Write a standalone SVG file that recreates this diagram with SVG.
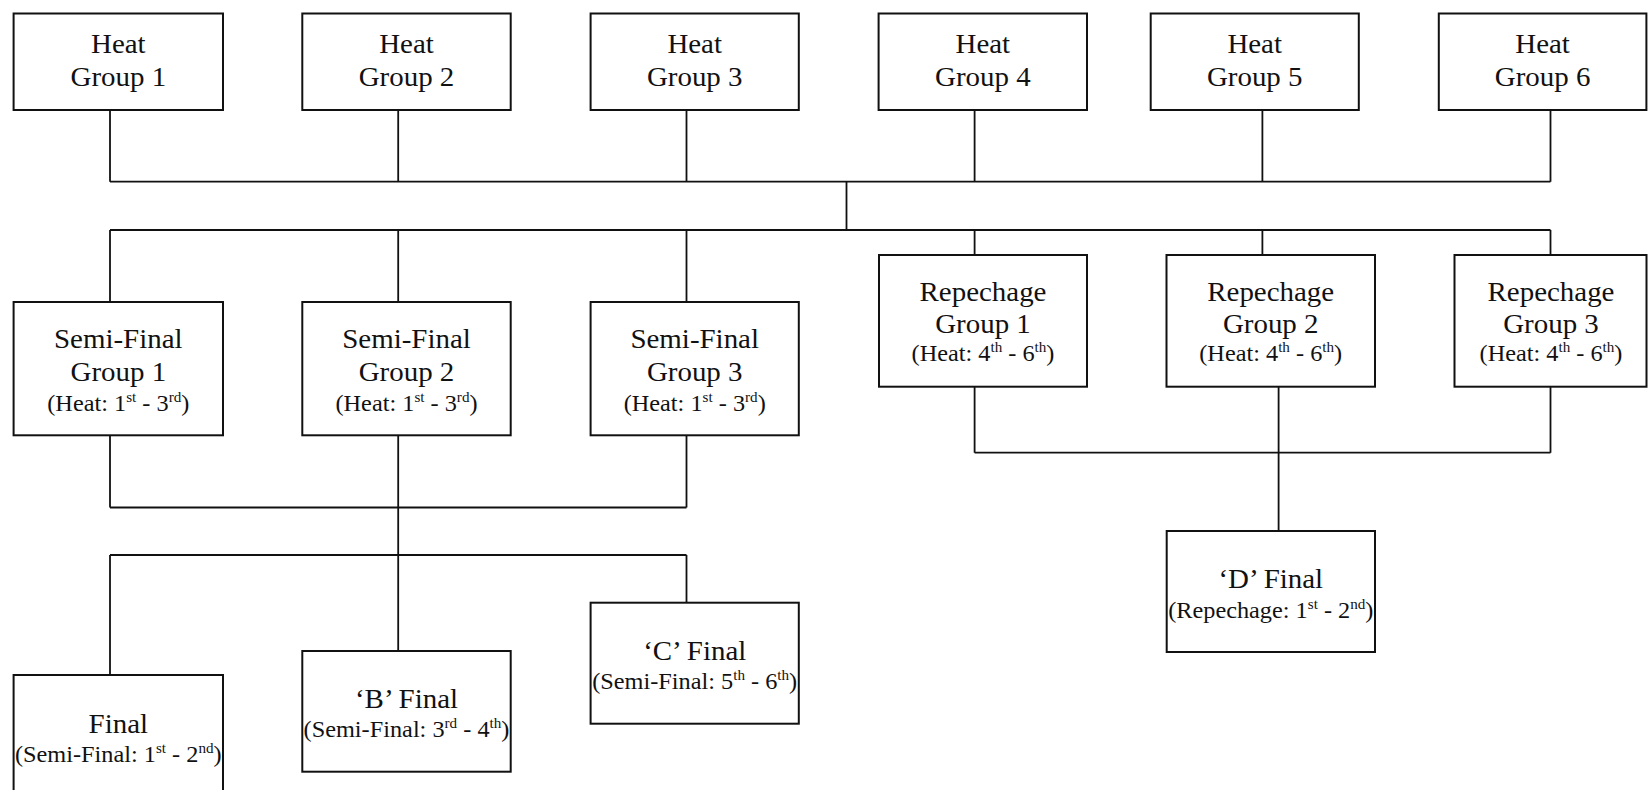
<svg xmlns="http://www.w3.org/2000/svg" width="1648" height="790" viewBox="0 0 1648 790">
<style>
rect{fill:#fff;stroke:#111;stroke-width:2}
#connectors path{fill:none;stroke:#111;stroke-width:1.8}
text{font-family:"Liberation Serif","Times New Roman",serif;fill:#111;text-anchor:middle}
.m{font-size:26.8px}
.s{font-size:22.5px}
.sup{font-size:14px}
</style>
<rect x="0" y="0" width="1648" height="790" style="fill:#fff;stroke:none"/>
<g id="connectors">
<path d="M110 110V181.7M398.2 110V181.7M686.5 110V181.7M974.6 110V181.7M1262.4 110V181.7M1550.5 110V181.7M110 181.7H1550.5"/>
<path d="M846.5 181.7V230M110 230H1550.5M110 230V302M398.2 230V302M686.5 230V302M974.6 230V255M1262.4 230V255M1550.5 230V255"/>
<path d="M110 435.3V507.5M686.5 435.3V507.5M110 507.5H686.5M398.2 435.3V651M110 555H686.5M110 555V675M686.5 555V602.7"/>
<path d="M974.6 380.5V452.7M1550.5 380.5V452.7M974.6 452.7H1550.5M1278.6 386.7V531"/>
</g>
<g id="heat1"><rect x="13.6" y="13.5" width="209.4" height="96.5"/>
<text class="m" transform="translate(118.3 0) scale(1.08 1)" y="52.7">Heat</text>
<text class="m" transform="translate(118.3 0) scale(1.08 1)" y="86">Group 1</text></g>
<g id="heat2"><rect x="302.3" y="13.5" width="208.4" height="96.5"/>
<text class="m" transform="translate(406.5 0) scale(1.08 1)" y="52.7">Heat</text>
<text class="m" transform="translate(406.5 0) scale(1.08 1)" y="86">Group 2</text></g>
<g id="heat3"><rect x="590.6" y="13.5" width="208.2" height="96.5"/>
<text class="m" transform="translate(694.7 0) scale(1.08 1)" y="52.7">Heat</text>
<text class="m" transform="translate(694.7 0) scale(1.08 1)" y="86">Group 3</text></g>
<g id="heat4"><rect x="878.6" y="13.5" width="208.4" height="96.5"/>
<text class="m" transform="translate(982.8 0) scale(1.08 1)" y="52.7">Heat</text>
<text class="m" transform="translate(982.8 0) scale(1.08 1)" y="86">Group 4</text></g>
<g id="heat5"><rect x="1150.7" y="13.5" width="208.1" height="96.5"/>
<text class="m" transform="translate(1254.7 0) scale(1.08 1)" y="52.7">Heat</text>
<text class="m" transform="translate(1254.7 0) scale(1.08 1)" y="86">Group 5</text></g>
<g id="heat6"><rect x="1438.8" y="13.5" width="207.6" height="96.5"/>
<text class="m" transform="translate(1542.6 0) scale(1.08 1)" y="52.7">Heat</text>
<text class="m" transform="translate(1542.6 0) scale(1.08 1)" y="86">Group 6</text></g>
<g id="semi1"><rect x="13.6" y="302" width="209.4" height="133.3"/>
<text class="m" transform="translate(118.3 0) scale(1.08 1)" y="347.7">Semi-Final</text>
<text class="m" transform="translate(118.3 0) scale(1.08 1)" y="381">Group 1</text>
<text class="s" transform="translate(118.3 0) scale(1.08 1)" y="411">(Heat: 1<tspan class="sup" dy="-9">st</tspan><tspan dy="9"> - 3</tspan><tspan class="sup" dy="-9">rd</tspan><tspan dy="9">)</tspan></text></g>
<g id="semi2"><rect x="302.3" y="302" width="208.4" height="133.3"/>
<text class="m" transform="translate(406.5 0) scale(1.08 1)" y="347.7">Semi-Final</text>
<text class="m" transform="translate(406.5 0) scale(1.08 1)" y="381">Group 2</text>
<text class="s" transform="translate(406.5 0) scale(1.08 1)" y="411">(Heat: 1<tspan class="sup" dy="-9">st</tspan><tspan dy="9"> - 3</tspan><tspan class="sup" dy="-9">rd</tspan><tspan dy="9">)</tspan></text></g>
<g id="semi3"><rect x="590.6" y="302" width="208.2" height="133.3"/>
<text class="m" transform="translate(694.7 0) scale(1.08 1)" y="347.7">Semi-Final</text>
<text class="m" transform="translate(694.7 0) scale(1.08 1)" y="381">Group 3</text>
<text class="s" transform="translate(694.7 0) scale(1.08 1)" y="411">(Heat: 1<tspan class="sup" dy="-9">st</tspan><tspan dy="9"> - 3</tspan><tspan class="sup" dy="-9">rd</tspan><tspan dy="9">)</tspan></text></g>
<g id="rep1"><rect x="879" y="255" width="208" height="131.7"/>
<text class="m" transform="translate(983 0) scale(1.08 1)" y="301">Repechage</text>
<text class="m" transform="translate(983 0) scale(1.08 1)" y="333.5">Group 1</text>
<text class="s" transform="translate(983 0) scale(1.08 1)" y="361.5">(Heat: 4<tspan class="sup" dy="-9">th</tspan><tspan dy="9"> - 6</tspan><tspan class="sup" dy="-9">th</tspan><tspan dy="9">)</tspan></text></g>
<g id="rep2"><rect x="1166.5" y="255" width="208.5" height="131.7"/>
<text class="m" transform="translate(1270.7 0) scale(1.08 1)" y="301">Repechage</text>
<text class="m" transform="translate(1270.7 0) scale(1.08 1)" y="333.5">Group 2</text>
<text class="s" transform="translate(1270.7 0) scale(1.08 1)" y="361.5">(Heat: 4<tspan class="sup" dy="-9">th</tspan><tspan dy="9"> - 6</tspan><tspan class="sup" dy="-9">th</tspan><tspan dy="9">)</tspan></text></g>
<g id="rep3"><rect x="1454.5" y="255" width="192" height="131.7"/>
<text class="m" transform="translate(1551 0) scale(1.08 1)" y="301">Repechage</text>
<text class="m" transform="translate(1551 0) scale(1.08 1)" y="333.5">Group 3</text>
<text class="s" transform="translate(1551 0) scale(1.08 1)" y="361.5">(Heat: 4<tspan class="sup" dy="-9">th</tspan><tspan dy="9"> - 6</tspan><tspan class="sup" dy="-9">th</tspan><tspan dy="9">)</tspan></text></g>
<g id="final"><rect x="13.6" y="675" width="209.4" height="121"/>
<text class="m" transform="translate(118.3 0) scale(1.08 1)" y="732.7">Final</text>
<text class="s" transform="translate(118.3 0) scale(1.08 1)" y="761.7">(Semi-Final: 1<tspan class="sup" dy="-9">st</tspan><tspan dy="9"> - 2</tspan><tspan class="sup" dy="-9">nd</tspan><tspan dy="9">)</tspan></text></g>
<g id="bfinal"><rect x="302.3" y="651" width="208.4" height="120.7"/>
<text class="m" transform="translate(406.5 0) scale(1.08 1)" y="707.7">&#8216;B&#8217; Final</text>
<text class="s" transform="translate(406.5 0) scale(1.08 1)" y="737.3">(Semi-Final: 3<tspan class="sup" dy="-9">rd</tspan><tspan dy="9"> - 4</tspan><tspan class="sup" dy="-9">th</tspan><tspan dy="9">)</tspan></text></g>
<g id="cfinal"><rect x="590.6" y="602.7" width="208.2" height="121"/>
<text class="m" transform="translate(694.7 0) scale(1.08 1)" y="660">&#8216;C&#8217; Final</text>
<text class="s" transform="translate(694.7 0) scale(1.08 1)" y="689.3">(Semi-Final: 5<tspan class="sup" dy="-9">th</tspan><tspan dy="9"> - 6</tspan><tspan class="sup" dy="-9">th</tspan><tspan dy="9">)</tspan></text></g>
<g id="dfinal"><rect x="1166.7" y="531" width="208.3" height="121"/>
<text class="m" transform="translate(1270.8 0) scale(1.08 1)" y="587.7">&#8216;D&#8217; Final</text>
<text class="s" transform="translate(1270.8 0) scale(1.08 1)" y="617.7">(Repechage: 1<tspan class="sup" dy="-9">st</tspan><tspan dy="9"> - 2</tspan><tspan class="sup" dy="-9">nd</tspan><tspan dy="9">)</tspan></text></g>
</svg>
